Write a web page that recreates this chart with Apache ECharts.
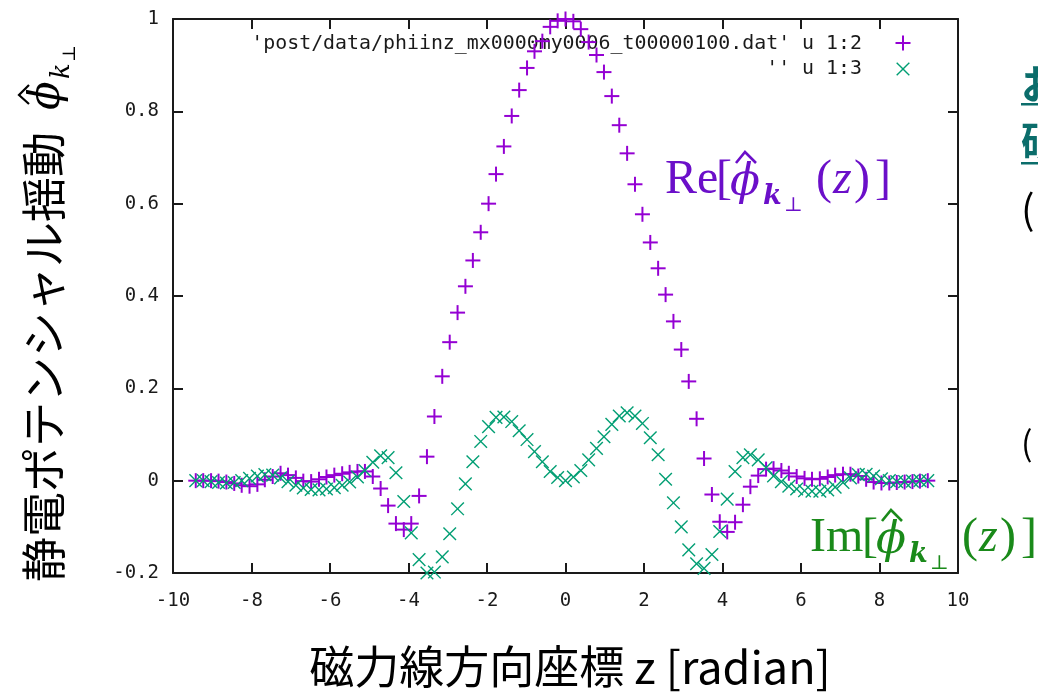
<!DOCTYPE html>
<html>
<head>
<meta charset="utf-8">
<script src="https://cdn.jsdelivr.net/npm/echarts@6.0.0/dist/echarts.min.js"></script>
<style>
  html, body { margin: 0; padding: 0; background: #fff; }
  #chart { width: 1038px; height: 693px; }
</style>
</head>
<body>
<div id="chart"></div>
<script>
// Field-line coordinate z [radian] of each sample
const Z = [
  -9.42, -9.23, -9.03, -8.84, -8.64, -8.44, -8.25, -8.05, -7.85, -7.66,
  -7.46, -7.26, -7.07, -6.87, -6.68, -6.48, -6.28, -6.09, -5.89, -5.69,
  -5.50, -5.30, -5.11, -4.91, -4.71, -4.52, -4.32, -4.12, -3.93, -3.73,
  -3.53, -3.34, -3.14, -2.95, -2.75, -2.55, -2.36, -2.16, -1.96, -1.77,
  -1.57, -1.37, -1.18, -0.98, -0.79, -0.59, -0.39, -0.20, 0.00, 0.20,
  0.39, 0.59, 0.79, 0.98, 1.18, 1.37, 1.57, 1.77, 1.96, 2.16,
  2.36, 2.55, 2.75, 2.95, 3.14, 3.34, 3.53, 3.73, 3.93, 4.12,
  4.32, 4.52, 4.71, 4.91, 5.11, 5.30, 5.50, 5.69, 5.89, 6.09,
  6.28, 6.48, 6.68, 6.87, 7.07, 7.26, 7.46, 7.66, 7.85, 8.05,
  8.25, 8.44, 8.64, 8.84, 9.03, 9.23
];

// Column 2: real part of the potential fluctuation
const RE_PHI = [
  0.000, 0.000, 0.000, -0.001, -0.003, -0.006, -0.010, -0.012, -0.008, 0.002,
  0.009, 0.016, 0.012, 0.006, -0.001, -0.002, 0.003, 0.008, 0.012, 0.015,
  0.018, 0.020, 0.020, 0.009, -0.017, -0.054, -0.093, -0.106, -0.093, -0.033,
  0.052, 0.139, 0.226, 0.300, 0.364, 0.421, 0.477, 0.538, 0.600, 0.664,
  0.724, 0.790, 0.846, 0.894, 0.930, 0.952, 0.983, 0.996, 1.000, 0.995,
  0.978, 0.950, 0.922, 0.885, 0.833, 0.770, 0.709, 0.642, 0.577, 0.516,
  0.460, 0.403, 0.345, 0.284, 0.215, 0.134, 0.048, -0.030, -0.089, -0.111,
  -0.090, -0.052, -0.013, 0.011, 0.025, 0.026, 0.022, 0.016, 0.009, 0.005,
  0.003, 0.004, 0.008, 0.012, 0.014, 0.014, 0.010, 0.003, -0.003, -0.005,
  -0.005, -0.004, -0.003, -0.002, -0.001, 0.000
];

// Column 3: imaginary part of the potential fluctuation
const IM_PHI = [
  0.000, 0.000, -0.002, -0.004, -0.005, -0.004, 0.000, 0.005, 0.010, 0.013,
  0.012, 0.006, -0.002, -0.010, -0.016, -0.019, -0.020, -0.018, -0.015, -0.010,
  -0.003, 0.008, 0.022, 0.040, 0.054, 0.050, 0.017, -0.045, -0.113, -0.171,
  -0.200, -0.198, -0.165, -0.115, -0.061, -0.007, 0.041, 0.085, 0.117, 0.137,
  0.138, 0.128, 0.108, 0.089, 0.063, 0.041, 0.020, 0.007, 0.000, 0.008,
  0.022, 0.045, 0.070, 0.095, 0.122, 0.140, 0.147, 0.140, 0.124, 0.093,
  0.056, 0.003, -0.048, -0.100, -0.150, -0.180, -0.190, -0.160, -0.110, -0.040,
  0.020, 0.050, 0.056, 0.045, 0.028, 0.010, -0.002, -0.012, -0.018, -0.022,
  -0.023, -0.023, -0.020, -0.014, -0.004, 0.006, 0.013, 0.014, 0.010, 0.004,
  0.000, -0.002, -0.002, -0.001, 0.000, 0.000
];

const X_RANGE = [-10, 10, 2];      // min, max, tick step
const Y_RANGE = [-0.2, 1, 0.2];

const KEY_LABELS = [
  "'post/data/phiinz_mx0000my0006_t00000100.dat' u 1:2",
  "'' u 1:3"
];
const X_TITLE = '磁力線方向座標 z [radian]';
const Y_TITLE = '静電ポテンシャル揺動 ';

const PURPLE = '#9400d3';
const TEAL = '#009e73';
const AXIS = '#1a1a1a';
const MONO = '"DejaVu Sans Mono", "Liberation Mono", monospace';
const SERIF = '"Liberation Serif", "DejaVu Serif", serif';
const DSERIF = '"DejaVu Serif", "Liberation Serif", serif';
const CJK = '"Noto Sans CJK JP", "Noto Sans", sans-serif';

// gnuplot-style point glyphs drawn at the axis-mapped position
function plusGlyph(color, half, lw) {
  return function (params, api) {
    const p = api.coord([api.value(0), api.value(1)]);
    return {
      type: 'group',
      children: [
        { type: 'line', shape: { x1: p[0] - half, y1: p[1], x2: p[0] + half, y2: p[1] }, style: { stroke: color, lineWidth: lw } },
        { type: 'line', shape: { x1: p[0], y1: p[1] - half, x2: p[0], y2: p[1] + half }, style: { stroke: color, lineWidth: lw } }
      ]
    };
  };
}
function crossGlyph(color, half, lw) {
  return function (params, api) {
    const p = api.coord([api.value(0), api.value(1)]);
    return {
      type: 'group',
      children: [
        { type: 'line', shape: { x1: p[0] - half, y1: p[1] - half, x2: p[0] + half, y2: p[1] + half }, style: { stroke: color, lineWidth: lw } },
        { type: 'line', shape: { x1: p[0] - half, y1: p[1] + half, x2: p[0] + half, y2: p[1] - half }, style: { stroke: color, lineWidth: lw } }
      ]
    };
  };
}

function txt(text, x, y, font, color, align, extra) {
  return Object.assign({
    type: 'text', x: x, y: y, silent: true,
    style: { text: text, font: font, fill: color, textAlign: align || 'left', verticalAlign: 'middle', textVerticalAlign: 'middle' }
  }, extra || {});
}

// "Re[φ̂_{k⊥}(z)]" style annotation, laid out piece by piece
function mathLabel(head, headX, bx, base, color) {
  const fs = 48;
  const mid = (b, s) => b - 0.3 * s;
  const f = (s, st, w, fam) => `${st || 'normal'} ${w || 'normal'} ${s}px ${fam || SERIF}`;
  return [
    txt(head, headX, mid(base, fs), f(fs), color),
    txt('[', bx, mid(base, fs), f(fs), color),
    txt('ϕ', bx + 14, mid(base + 2, 44), f(44, 'italic', 'normal', DSERIF), color),
    { type: 'polyline', silent: true,
      shape: { points: [[bx + 20, base - 32], [bx + 29, base - 43], [bx + 40, base - 32]] },
      style: { stroke: color, lineWidth: 2.6, fill: null } },
    txt('k', bx + 47, mid(base + 10, 27), f(27, 'italic', 'bold', DSERIF), color),
    txt('⊥', bx + 68, mid(base + 17, 20), f(20, 'normal', 'normal', DSERIF), color),
    txt('(', bx + 100, mid(base, fs), f(fs), color),
    txt('z', bx + 117, mid(base, fs), f(fs, 'italic'), color),
    txt(')', bx + 138, mid(base, fs), f(fs), color),
    txt(']', bx + 159, mid(base, fs), f(fs), color)
  ];
}

const chart = echarts.init(document.getElementById('chart'), null, { renderer: 'canvas' });

const axisLine = { show: true, onZero: false, lineStyle: { color: AXIS, width: 2 } };
const axisTick = { show: true, inside: true, length: 10, lineStyle: { color: AXIS, width: 2 } };
const tickFont = { color: AXIS, fontFamily: MONO, fontSize: 19 };

function xAxisDef(pos, labels) {
  return {
    type: 'value', position: pos, min: X_RANGE[0], max: X_RANGE[1], interval: X_RANGE[2],
    axisLine: axisLine, axisTick: axisTick, splitLine: { show: false },
    axisLabel: Object.assign({ show: labels, margin: 19 }, tickFont)
  };
}
function yAxisDef(pos, labels) {
  return {
    type: 'value', position: pos, min: Y_RANGE[0], max: Y_RANGE[1], interval: Y_RANGE[2],
    axisLine: axisLine, axisTick: axisTick, splitLine: { show: false },
    axisLabel: Object.assign({ show: labels, margin: 14 }, tickFont)
  };
}

// y-axis title, rotated to read bottom-to-top
const yTitle = {
  type: 'group', x: 44, y: 582, rotation: Math.PI / 2, silent: true,
  children: [
    txt(Y_TITLE, 0, 0, `45px ${CJK}`, '#000'),
    txt('ϕ', 472, 4, `italic 42px ${DSERIF}`, '#000'),
    { type: 'polyline', shape: { points: [[478, -15], [487, -25], [497, -15]] }, style: { stroke: '#000', lineWidth: 2.2, fill: null } },
    txt('k', 503, 18, `italic 26px ${DSERIF}`, '#000'),
    txt('⊥', 520, 26, `18px ${DSERIF}`, '#000')
  ]
};

const TEXT_TEAL = '#0b6d6b';

const option = {
  backgroundColor: '#fff',
  animation: false,
  grid: { left: 173, right: 80, top: 19, bottom: 120, show: false },
  xAxis: [xAxisDef('bottom', true), xAxisDef('top', false)],
  yAxis: [yAxisDef('left', true), yAxisDef('right', false)],
  series: [
    {
      type: 'custom', name: KEY_LABELS[0], coordinateSystem: 'cartesian2d',
      xAxisIndex: 0, yAxisIndex: 0, silent: true,
      encode: { x: 0, y: 1 },
      renderItem: plusGlyph(PURPLE, 7.5, 2),
      data: Z.map((z, i) => [z, RE_PHI[i]])
    },
    {
      type: 'custom', name: KEY_LABELS[1], coordinateSystem: 'cartesian2d',
      xAxisIndex: 0, yAxisIndex: 0, silent: true,
      encode: { x: 0, y: 1 },
      renderItem: crossGlyph(TEAL, 6.3, 1.4),
      data: Z.map((z, i) => [z, IM_PHI[i]])
    }
  ],
  graphic: [
    // key
    txt(KEY_LABELS[0], 862, 44, `19.9px ${MONO}`, AXIS, 'right'),
    txt(KEY_LABELS[1], 862, 69, `19.9px ${MONO}`, AXIS, 'right'),
    { type: 'line', shape: { x1: 895.5, y1: 43, x2: 910.5, y2: 43 }, style: { stroke: PURPLE, lineWidth: 2 } },
    { type: 'line', shape: { x1: 903, y1: 35.5, x2: 903, y2: 50.5 }, style: { stroke: PURPLE, lineWidth: 2 } },
    { type: 'line', shape: { x1: 896.7, y1: 62.7, x2: 909.3, y2: 75.3 }, style: { stroke: TEAL, lineWidth: 1.4 } },
    { type: 'line', shape: { x1: 896.7, y1: 75.3, x2: 909.3, y2: 62.7 }, style: { stroke: TEAL, lineWidth: 1.4 } },
    // axis titles
    txt(X_TITLE, 570, 667, `45px ${CJK}`, '#000', 'center'),
    yTitle,
    // curve annotations
    ...mathLabel('Re', 665, 716, 195, '#6b0fc9'),
    ...mathLabel('Im', 810, 862, 553, '#1a8a1a'),
    // neighbouring slide text at the right edge
    txt('お', 1021, 84, `bold 40px ${CJK}`, TEXT_TEAL),
    { type: 'rect', shape: { x: 1021, y: 103, width: 20, height: 2.5 }, style: { fill: TEXT_TEAL } },
    txt('研', 1021, 141, `bold 40px ${CJK}`, TEXT_TEAL),
    { type: 'rect', shape: { x: 1021, y: 162, width: 20, height: 2.5 }, style: { fill: TEXT_TEAL } },
    txt('(', 1021, 209, `40px ${CJK}`, '#000'),
    txt('(', 1021, 443, `34px ${CJK}`, '#000')
  ]
};

chart.setOption(option);
</script>
</body>
</html>
